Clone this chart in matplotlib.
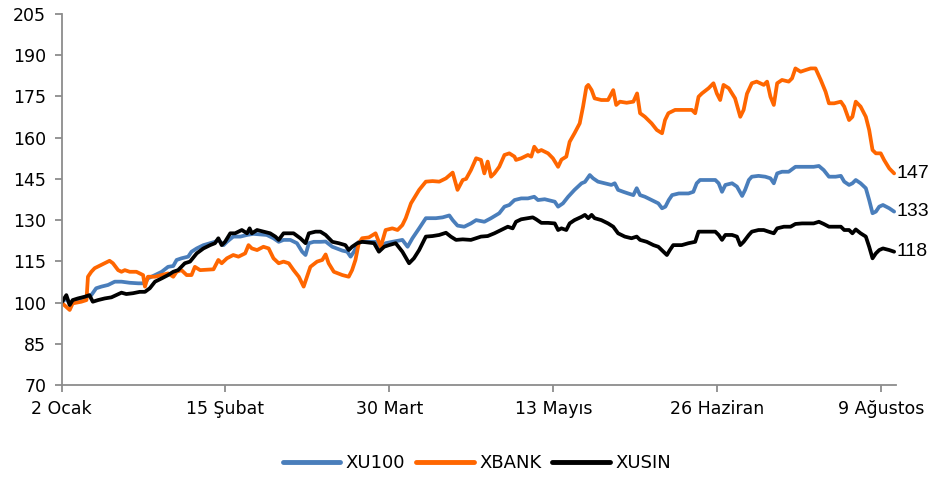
import matplotlib
matplotlib.use("Agg")
import matplotlib.pyplot as plt

plt.rcParams['font.family'] = ['DejaVu Sans']

# x = days since 2 January
tick_days = [0, 44, 88, 132, 176, 220]
tick_labels = ["2 Ocak", "15 Şubat", "30 Mart", "13 Mayıs", "26 Haziran", "9 Ağustos"]

xu100_days = [0, 1.3, 2.2, 3.0, 5.0, 6.7, 8.0, 9.3, 10.7, 12.5, 14.3, 16.1, 18.3, 20.6, 22.4, 23.2,
              25.1, 26.9, 28.6, 30.0, 30.9, 32.2, 34.0, 34.9, 36.3, 38.1, 39.9, 41.2, 42.1, 43.5,
              44.4, 46.1, 48.0, 49.8, 51.5, 53.3, 55.1, 56.9, 58.3, 59.6, 61.4, 63.2, 64.6, 65.5,
              66.4, 67.7, 69.5, 70.9, 72.7, 75.4, 76.7, 77.6, 78.5, 79.8, 82.5, 84.3, 85.7, 87.0,
              88.8, 91.5, 92.9, 94.2, 96.0, 97.8, 100.5, 102.3, 104.1, 105.0, 106.3, 108.1, 109.9,
              111.3, 113.5, 115.3, 117.5, 118.9, 120.2, 121.6, 123.4, 125.2, 126.9, 127.9, 129.7,
              132.4, 133.3, 134.6, 136.0, 137.7, 139.6, 140.5, 141.8, 142.7, 144.0, 145.8, 147.6,
              148.5, 149.4, 150.8, 152.1, 153.5, 154.4, 155.3, 156.6, 158.4, 160.2, 161.2, 162.1,
              163.0, 163.9, 165.7, 168.3, 169.6, 170.5, 171.4, 173.7, 175.5, 176.4, 177.3, 178.2,
              180.0, 181.3, 182.7, 183.5, 184.5, 185.3, 187.1, 188.9, 190.3, 191.2, 192.1, 193.4,
              195.2, 197.0, 198.8, 200.6, 201.9, 203.3, 204.6, 206.0, 207.8, 209.2, 210.1, 211.4,
              212.3, 213.2, 214.5, 215.9, 216.8, 217.7, 218.6, 219.5, 220.5, 222.2, 223.5]
xu100 = [100, 101.5, 99.5, 100.5, 101.5, 102.1, 102.7, 105.2, 105.8, 106.4, 107.6, 107.6, 107.2, 107.0,
         107.0, 108.8, 110.0, 111.2, 113.0, 113.3, 115.5, 116.1, 116.7, 118.5, 119.7, 120.9, 121.6,
         122.1, 122.8, 120.9, 122.1, 124.0, 124.0, 124.6, 125.0, 124.8, 124.6, 123.4, 122.1, 122.8,
         122.8, 121.6, 118.5, 117.3, 121.6, 122.1, 122.1, 122.2, 120.3, 118.9, 118.5, 116.7, 118.5,
         122.1, 122.1, 122.1, 119.7, 121.6, 122.1, 122.8, 120.3, 123.4, 127.0, 130.7, 130.7, 131.0,
         131.7, 130.0, 128.0, 127.6, 128.8, 130.0, 129.4, 130.7, 132.5, 134.9, 135.5, 137.3, 137.9,
         137.9, 138.5, 137.3, 137.6, 136.7, 134.9, 136.1, 138.5, 141.0, 143.4, 143.9, 146.4, 145.2,
         144.0, 143.4, 142.8, 143.4, 141.0, 140.3, 139.7, 139.1, 141.6, 139.1, 138.5, 137.3, 136.1,
         134.3, 134.9, 137.3, 139.1, 139.7, 139.7, 140.3, 143.4, 144.6, 144.6, 144.6, 143.4, 140.3,
         142.8, 143.4, 142.2, 138.8, 141.0, 144.6, 145.8, 146.1, 145.8, 145.2, 143.4, 147.0, 147.6,
         147.6, 149.4, 149.4, 149.4, 149.4, 149.7, 148.2, 145.8, 145.8, 146.1, 144.0, 142.8, 143.4,
         144.6, 143.4, 141.6, 137.3, 132.5, 133.1, 134.9, 135.5, 134.3, 133.1]

xbank_days = [0, 2.2, 3.0, 5.3, 6.7, 7.1, 8.0, 8.9, 10.7, 12.9, 13.8, 15.2, 16.1, 17.0, 18.3, 20.1,
              21.9, 22.4, 23.2, 25.1, 26.9, 28.6, 30.0, 30.9, 32.2, 33.6, 34.9, 35.8, 37.2, 40.8,
              42.1, 43.0, 44.4, 46.1, 47.5, 49.3, 50.2, 51.1, 52.5, 54.2, 55.6, 56.9, 58.3, 59.6,
              61.0, 62.3, 63.7, 65.0, 65.9, 66.8, 68.6, 70.0, 70.9, 71.7, 73.1, 75.4, 77.1, 78.0,
              78.9, 79.8, 80.7, 82.5, 84.3, 85.7, 87.0, 88.8, 90.2, 91.5, 92.4, 93.8, 94.6, 96.0,
              97.8, 99.6, 101.4, 103.2, 105.0, 106.3, 107.7, 108.6, 109.9, 111.3, 112.6, 113.5,
              114.4, 115.3, 116.2, 117.5, 118.9, 120.2, 121.6, 122.0, 123.4, 125.2, 126.1, 126.9,
              127.9, 128.8, 130.6, 131.9, 133.3, 134.2, 135.5, 136.4, 137.7, 139.1, 140.0, 140.9,
              141.4, 142.3, 143.1, 144.9, 146.7, 148.1, 148.9, 149.9, 151.7, 153.5, 154.5, 155.3,
              156.6, 158.4, 159.8, 161.2, 162.0, 162.9, 164.7, 166.5, 169.2, 170.1, 171.0, 171.9,
              173.7, 175.0, 175.9, 176.8, 177.7, 179.1, 180.8, 182.2, 183.1, 184.0, 185.3, 186.6,
              188.5, 189.4, 190.3, 191.2, 192.1, 193.4, 195.2, 196.1, 197.0, 198.4, 199.7, 201.1,
              202.4, 203.8, 205.1, 206.0, 207.4, 209.2, 210.1, 211.4, 212.3, 213.2, 214.5, 215.9,
              216.8, 217.7, 218.6, 219.9, 220.8, 222.2, 223.5]
xbank = [100, 97.3, 99.7, 100.3, 100.9, 109.4, 111.2, 112.5, 113.7, 115.2, 114.3, 111.8, 111.2, 111.8,
         111.2, 111.2, 110.0, 105.8, 109.4, 109.4, 110.0, 110.6, 109.4, 111.2, 111.8, 110.0, 110.0,
         113.0, 111.8, 112.1, 115.5, 114.3, 116.1, 117.3, 116.7, 117.9, 120.9, 119.7, 119.1, 120.3,
         119.7, 116.1, 114.3, 114.9, 114.3, 111.8, 109.4, 105.8, 109.4, 113.0, 114.9, 115.5, 117.5,
         114.3, 111.2, 110.0, 109.4, 111.8, 115.5, 121.6, 123.4, 123.7, 125.2, 120.3, 126.4, 127.0,
         126.4, 128.2, 130.7, 136.1, 137.9, 141.0, 144.0, 144.2, 144.0, 145.2, 147.3, 141.0, 144.6,
         145.0, 148.2, 152.5, 151.9, 147.0, 151.3, 145.8, 147.0, 149.4, 153.7, 154.3, 153.1, 151.9,
         152.5, 153.7, 153.1, 156.7, 154.9, 155.5, 154.3, 152.5, 149.4, 152.0, 153.1, 158.5, 161.6,
         165.2, 171.3, 178.5, 179.2, 177.3, 174.3, 173.7, 173.7, 177.3, 171.9, 173.1, 172.7, 173.1,
         176.1, 168.9, 167.6, 165.2, 162.8, 161.6, 166.4, 168.9, 170.1, 170.1, 170.1, 168.9, 174.9,
         176.1, 178.0, 179.8, 176.1, 173.7, 179.2, 178.0, 174.3, 167.6, 170.1, 176.0, 179.8, 180.4,
         179.2, 180.4, 174.9, 171.9, 179.8, 181.0, 180.4, 181.6, 185.2, 184.0, 184.6, 185.2, 185.2,
         181.0, 176.7, 172.5, 172.5, 173.1, 171.3, 166.4, 167.6, 173.1, 171.3, 167.6, 162.8, 155.5,
         154.3, 154.3, 151.9, 148.8, 147.0]

xusin_days = [0, 1.3, 2.2, 3.0, 4.4, 6.2, 7.5, 8.4, 9.8, 11.6, 13.4, 14.7, 16.1, 17.4, 19.2, 21.0,
              22.4, 23.7, 25.1, 26.9, 28.6, 30.0, 31.3, 33.1, 34.5, 36.3, 38.1, 39.9, 41.2, 42.1,
              43.0, 43.9, 45.3, 46.6, 48.4, 49.8, 50.5, 51.1, 52.5, 54.2, 56.0, 57.4, 58.3, 59.6,
              62.3, 64.1, 65.5, 66.4, 68.2, 69.5, 70.9, 72.7, 74.4, 76.2, 77.1, 78.0, 79.4, 80.7,
              82.5, 83.9, 85.2, 86.6, 87.9, 89.7, 91.5, 93.3, 94.6, 96.0, 97.8, 99.6, 101.4, 103.2,
              104.5, 105.9, 107.7, 109.9, 112.6, 114.4, 116.2, 118.0, 119.8, 121.1, 122.0, 123.4,
              125.2, 126.5, 127.4, 128.8, 130.6, 132.4, 133.3, 134.2, 135.5, 136.4, 137.7, 139.6,
              140.5, 141.4, 142.3, 143.1, 144.9, 146.7, 148.1, 149.4, 151.2, 153.0, 154.4, 155.3,
              157.1, 158.9, 160.2, 161.6, 162.5, 163.3, 164.2, 166.5, 168.3, 170.1, 171.0, 172.8,
              175.5, 176.4, 177.3, 178.2, 180.0, 181.3, 182.2, 183.1, 184.5, 185.3, 187.1, 188.5,
              189.8, 191.2, 192.1, 193.9, 195.7, 197.0, 198.8, 201.9, 203.3, 204.6, 206.0, 209.2,
              210.1, 211.4, 212.3, 213.2, 214.5, 215.9, 216.8, 217.7, 218.6, 219.5, 220.5, 222.2,
              223.5]
xusin = [100, 102.7, 99.1, 100.9, 101.5, 102.1, 102.7, 100.3, 100.9, 101.5, 101.9, 102.7, 103.6, 103.1,
         103.4, 103.9, 103.9, 105.2, 107.6, 108.8, 110.0, 111.2, 111.8, 114.3, 114.9, 117.9, 119.7,
         120.9, 121.6, 123.4, 120.9, 122.1, 125.2, 125.2, 126.4, 125.2, 127.0, 125.2, 126.4, 125.8,
         125.2, 124.0, 122.8, 125.2, 125.2, 123.4, 121.6, 125.2, 125.8, 125.8, 124.6, 122.1, 121.6,
         120.9, 119.1, 120.3, 121.6, 122.1, 121.8, 121.6, 118.5, 120.3, 120.9, 121.6, 118.5, 114.3,
         116.1, 119.1, 124.0, 124.2, 124.6, 125.4, 124.0, 122.8, 123.0, 122.8, 124.0, 124.2, 125.2,
         126.4, 127.6, 127.0, 129.4, 130.3, 130.7, 131.0, 130.3, 129.0, 129.0, 128.8, 126.4, 127.0,
         126.4, 128.8, 130.0, 131.2, 131.9, 130.7, 131.9, 130.7, 130.0, 128.8, 127.6, 125.2, 124.0,
         123.4, 124.0, 122.8, 122.1, 120.9, 120.3, 118.5, 117.3, 119.1, 120.9, 120.9, 121.6, 122.1,
         125.8, 125.8, 125.8, 124.6, 122.8, 124.6, 124.6, 124.0, 120.9, 122.1, 124.6, 125.8, 126.4,
         126.4, 125.8, 125.2, 127.0, 127.6, 127.6, 128.6, 128.8, 128.8, 129.4, 128.6, 127.6, 127.6,
         126.4, 126.4, 125.2, 126.6, 125.2, 124.0, 120.3, 116.1, 117.9, 119.1, 119.7, 119.1, 118.5]

end_labels = ["133", "147", "118"]
series_names = ["XU100", "XBANK", "XUSIN"]
colors = ["#4A7EBB", "#FF6600", "#000000"]

fig = plt.figure(figsize=(9.29, 4.78), dpi=100)
ax = fig.add_axes([61.5 / 929, 1 - 385 / 478, (896 - 61.5) / 929, (385 - 14) / 478])

all_days = [xu100_days, xbank_days, xusin_days]
all_vals = [xu100, xbank, xusin]
for d, v, c, n, lab in zip(all_days, all_vals, colors, series_names, end_labels):
    ax.plot(d, v, color=c, lw=2.7, label=n, solid_joinstyle='round', solid_capstyle='round')
    ax.annotate(lab, xy=(d[-1], v[-1]), xytext=(2, 0), textcoords='offset points',
                va='center', ha='left', fontsize=14, color='black', annotation_clip=False,
                family=['Liberation Sans', 'DejaVu Sans'])

ax.set_xlim(0, 224)
ax.set_ylim(70, 205)
ax.set_yticks(range(70, 206, 15))
ax.set_xticks(tick_days)
ax.set_xticklabels(tick_labels)

for s in ['top', 'right']:
    ax.spines[s].set_visible(False)
for s in ['left', 'bottom']:
    ax.spines[s].set_color('#8C8C8C')
    ax.spines[s].set_linewidth(1.3)
ax.tick_params(axis='both', colors='#8C8C8C', labelcolor='black', labelsize=12.5, length=5, width=1.3)
ax.tick_params(axis='y', pad=6)
ax.tick_params(axis='x', pad=6)

leg = fig.legend(loc='center', bbox_to_anchor=(477 / 929, 1 - 463 / 478), ncol=3, frameon=False,
                 fontsize=13, handlelength=3.2, handletextpad=0.3, columnspacing=0.6)
for line in leg.get_lines():
    line.set_linewidth(3.5)

fig.savefig("out.png", dpi=100)
